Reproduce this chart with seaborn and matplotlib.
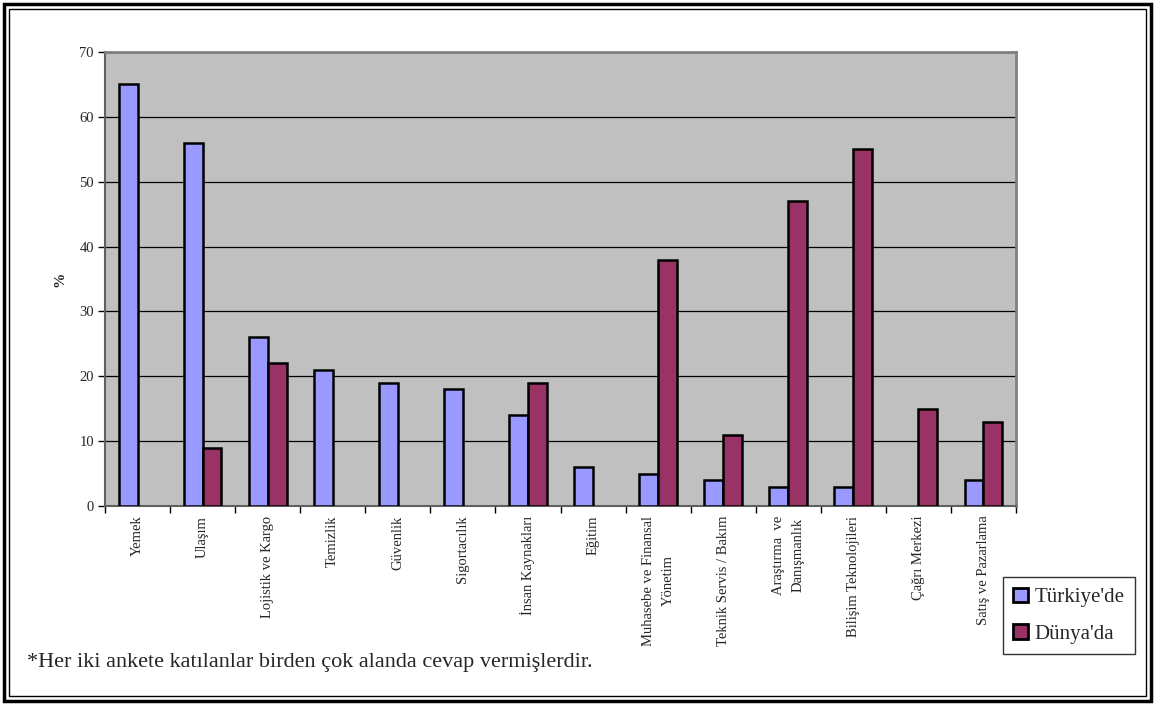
import numpy as np
import pandas as pd
import matplotlib
matplotlib.use("Agg")
import matplotlib.pyplot as plt
import seaborn as sns
from matplotlib.patches import Rectangle

# Data
categories = ["Yemek", "Ulaşım", "Lojistik ve Kargo", "Temizlik", "Güvenlik",
              "Sigortacılık", "İnsan Kaynakları", "Eğitim",
              "Muhasebe ve Finansal\nYönetim", "Teknik Servis / Bakım",
              "Araştırma  ve\nDanışmanlık", "Bilişim Teknolojileri",
              "Çağrı Merkezi", "Satış ve Pazarlama"]
turkiye = [65, 56, 26, 21, 19, 18, 14, 6, 5, 4, 3, 3, np.nan, 4]
dunya = [np.nan, 9, 22, np.nan, np.nan, np.nan, 19, np.nan, 38, 11, 47, 55, 15, 13]
series = ["Türkiye'de", "Dünya'da"]
colors = ["#9999FF", "#993366"]

df = pd.DataFrame({
    "Alan": categories * 2,
    "Seri": [series[0]] * len(categories) + [series[1]] * len(categories),
    "Deger": turkiye + dunya,
})

sns.set_style("white")
plt.rcParams["font.family"] = ["Liberation Serif", "DejaVu Serif"]

fig = plt.figure(figsize=(11.55, 7.05), dpi=100)
ax = fig.add_axes([105 / 1155, 1 - 506 / 705, 911 / 1155, 454 / 705])
ax.set_facecolor("#C0C0C0")

sns.barplot(data=df, x="Alan", y="Deger", hue="Seri", palette=colors,
            width=0.58, edgecolor="black", linewidth=1.8, ax=ax,
            saturation=1, legend=True, zorder=3)

ax.set_ylim(0, 70)
ax.set_xlim(-0.5, len(categories) - 0.5)
ax.set_yticks(range(0, 71, 10))
ax.yaxis.grid(True, color="black", linewidth=0.9, zorder=0)
ax.set_axisbelow(True)
ax.tick_params(axis="y", direction="out", length=5, width=1, labelsize=10.5,
               color="black", left=True, pad=3)

ax.set_xticks(range(len(categories)))
ax.set_xticklabels(categories, rotation=90, ha="center", va="top",
                   fontsize=10.5, multialignment="center", linespacing=1.7)
ax.tick_params(axis="x", which="major", length=0, pad=7)
ax.set_xticks(np.arange(-0.5, len(categories)), minor=True)
ax.tick_params(axis="x", which="minor", direction="out", length=5, width=1,
               color="black", bottom=True)

ax.set_xlabel("")
ax.set_ylabel("%", fontsize=11, fontweight="bold", labelpad=9)

for side in ["top", "right"]:
    ax.spines[side].set_color("#808080")
    ax.spines[side].set_linewidth(2)
ax.spines["left"].set_color("#606060")
ax.spines["bottom"].set_color("#606060")
ax.spines["left"].set_linewidth(1.5)
ax.spines["bottom"].set_linewidth(1.5)

leg = ax.legend(loc="lower left", bbox_to_anchor=(1003 / 1155, 1 - 654 / 705),
                bbox_transform=fig.transFigure, frameon=True, fancybox=False,
                edgecolor="black", fontsize=15, handlelength=0.7,
                handleheight=0.7, handletextpad=0.3, labelspacing=0.8,
                borderpad=0.5, borderaxespad=0)
leg.get_frame().set_linewidth(1)
for h in leg.legend_handles:
    h.set_edgecolor("black")
    h.set_linewidth(2)

fig.text(27 / 1155, 1 - 662 / 705,
         "*Her iki ankete katılanlar birden çok alanda cevap vermişlerdir.",
         fontsize=16, ha="left", va="center")

# double outer frame
fig.patches.append(Rectangle((4 / 1155, 4 / 705), 1147 / 1155, 697 / 705,
                             transform=fig.transFigure, fill=False,
                             edgecolor="black", linewidth=2.5))
fig.patches.append(Rectangle((9 / 1155, 9 / 705), 1137 / 1155, 687 / 705,
                             transform=fig.transFigure, fill=False,
                             edgecolor="black", linewidth=1))

fig.savefig("out.png", dpi=100)
